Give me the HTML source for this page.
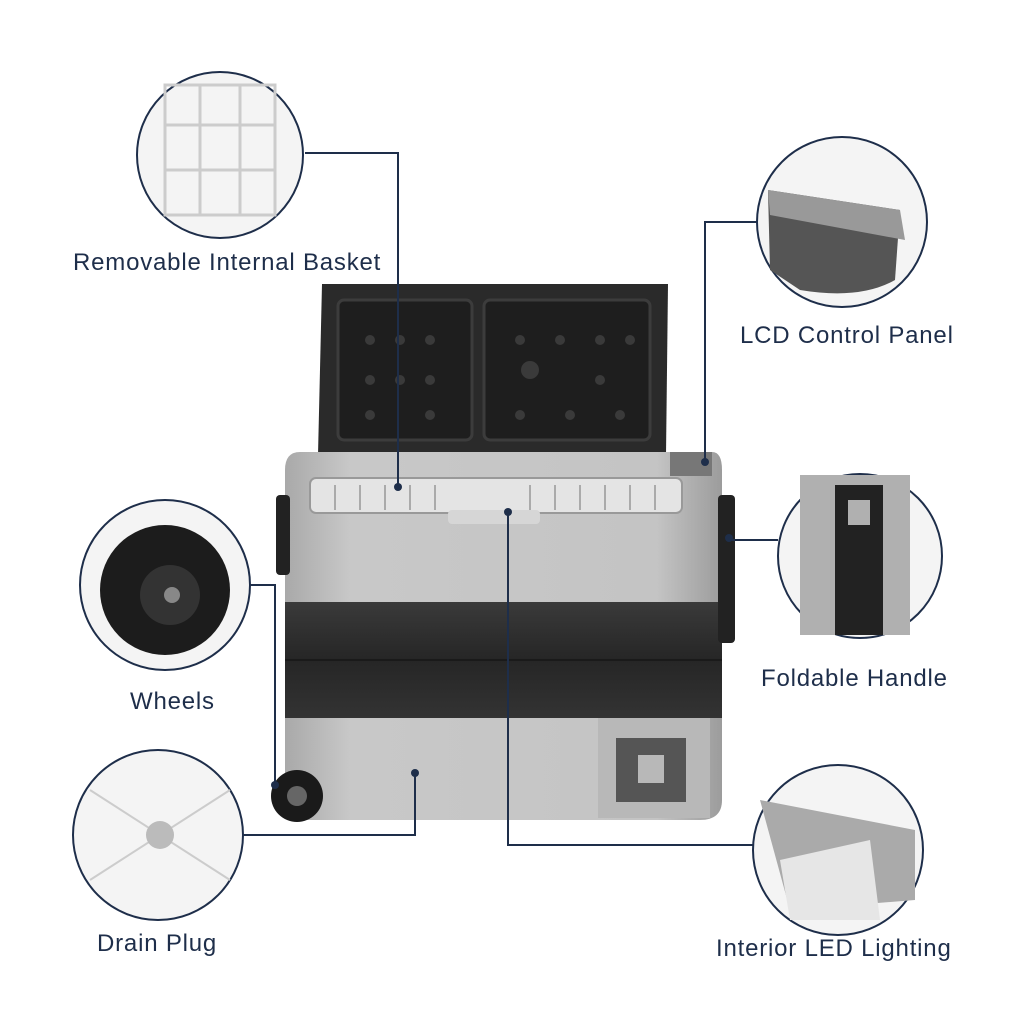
<!DOCTYPE html>
<html><head><meta charset="utf-8"><style>
html,body{margin:0;padding:0;background:#fff;}
svg{display:block}
text{font-family:"Liberation Sans",sans-serif;fill:#1e2e4a;font-size:24px;letter-spacing:0.8px}
</style></head><body>
<svg width="1024" height="1024" viewBox="0 0 1024 1024">
<defs>
<linearGradient id="body" x1="0" y1="0" x2="1" y2="0"><stop offset="0" stop-color="#a9a9a9"/><stop offset="0.15" stop-color="#c8c8c8"/><stop offset="0.85" stop-color="#c4c4c4"/><stop offset="1" stop-color="#9c9c9c"/></linearGradient>
<linearGradient id="band" x1="0" y1="0" x2="0" y2="1"><stop offset="0" stop-color="#3a3a3a"/><stop offset="0.5" stop-color="#262626"/><stop offset="1" stop-color="#333"/></linearGradient>
</defs>
<path d="M322 284 L668 284 L666 455 L318 455 Z" fill="#2a2a2a"/>
<rect x="338" y="300" width="134" height="140" rx="6" fill="#1e1e1e" stroke="#3c3c3c" stroke-width="3"/>
<rect x="484" y="300" width="166" height="140" rx="6" fill="#1e1e1e" stroke="#3c3c3c" stroke-width="3"/>
<g fill="#3a3a3a">
<circle cx="370" cy="340" r="5"/><circle cx="400" cy="340" r="5"/><circle cx="430" cy="340" r="5"/><circle cx="370" cy="380" r="5"/><circle cx="400" cy="380" r="5"/><circle cx="430" cy="380" r="5"/><circle cx="370" cy="415" r="5"/><circle cx="430" cy="415" r="5"/>
<circle cx="520" cy="340" r="5"/><circle cx="560" cy="340" r="5"/><circle cx="600" cy="340" r="5"/><circle cx="630" cy="340" r="5"/><circle cx="530" cy="370" r="9"/><circle cx="600" cy="380" r="5"/><circle cx="520" cy="415" r="5"/><circle cx="570" cy="415" r="5"/><circle cx="620" cy="415" r="5"/>
</g>
<path d="M300 452 L712 452 Q722 452 722 470 L722 800 Q722 820 700 820 L305 820 Q285 820 285 800 L285 470 Q285 452 300 452 Z" fill="url(#body)"/>
<rect x="310" y="478" width="372" height="35" rx="6" fill="#e4e4e4" stroke="#999" stroke-width="2"/>
<g stroke="#aaa" stroke-width="2"><line x1="335" y1="485" x2="335" y2="510"/><line x1="360" y1="485" x2="360" y2="510"/><line x1="385" y1="485" x2="385" y2="510"/><line x1="410" y1="485" x2="410" y2="510"/><line x1="435" y1="485" x2="435" y2="510"/><line x1="530" y1="485" x2="530" y2="510"/><line x1="555" y1="485" x2="555" y2="510"/><line x1="580" y1="485" x2="580" y2="510"/><line x1="605" y1="485" x2="605" y2="510"/><line x1="630" y1="485" x2="630" y2="510"/><line x1="655" y1="485" x2="655" y2="510"/></g>
<rect x="448" y="510" width="92" height="14" rx="4" fill="#d6d6d6"/>
<rect x="670" y="452" width="42" height="24" fill="#777"/>
<rect x="285" y="602" width="437" height="116" fill="url(#band)"/>
<line x1="285" y1="660" x2="722" y2="660" stroke="#1a1a1a" stroke-width="2"/>
<rect x="598" y="718" width="112" height="100" fill="#b8b8b8"/>
<rect x="616" y="738" width="70" height="64" fill="#555"/>
<rect x="638" y="755" width="26" height="28" fill="#b8b8b8"/>
<rect x="276" y="495" width="14" height="80" rx="4" fill="#222"/>
<rect x="718" y="495" width="17" height="148" rx="4" fill="#222"/>
<circle cx="297" cy="796" r="26" fill="#1a1a1a"/><circle cx="297" cy="796" r="10" fill="#666"/>
<g fill="#f4f4f4" stroke="#1e2e4a" stroke-width="2">
<circle cx="220" cy="155" r="83"/>
<circle cx="842" cy="222" r="85"/>
<circle cx="165" cy="585" r="85"/>
<circle cx="860" cy="556" r="82"/>
<circle cx="158" cy="835" r="85"/>
<circle cx="838" cy="850" r="85"/>
</g>
<g stroke="#ccc" stroke-width="3" fill="none"><rect x="165" y="85" width="110" height="130"/><line x1="165" y1="125" x2="275" y2="125"/><line x1="165" y1="170" x2="275" y2="170"/><line x1="200" y1="85" x2="200" y2="215"/><line x1="240" y1="85" x2="240" y2="215"/></g>
<path d="M768 190 L900 210 L895 280 Q860 300 800 290 L770 270 Z" fill="#555"/><path d="M768 190 L900 210 L905 240 L770 215 Z" fill="#999"/>
<circle cx="165" cy="590" r="65" fill="#1c1c1c"/><circle cx="170" cy="595" r="30" fill="#333"/><circle cx="172" cy="595" r="8" fill="#888"/>
<rect x="800" y="475" width="110" height="160" fill="#b0b0b0"/><rect x="835" y="485" width="48" height="150" fill="#222"/><rect x="848" y="500" width="22" height="25" fill="#b0b0b0"/>
<line x1="90" y1="790" x2="230" y2="880" stroke="#ccc" stroke-width="2"/><line x1="230" y1="790" x2="90" y2="880" stroke="#ccc" stroke-width="2"/><circle cx="160" cy="835" r="14" fill="#bbb"/>
<path d="M760 800 L915 830 L915 900 L790 910 Z" fill="#aaa"/><path d="M780 860 L870 840 L880 920 L790 920 Z" fill="#e6e6e6"/>
<g stroke="#1e2e4a" stroke-width="2" fill="none">
<polyline points="305,153 398,153 398,487"/>
<polyline points="757,222 705,222 705,462"/>
<polyline points="250,585 275,585 275,785"/>
<polyline points="778,540 729,540"/>
<polyline points="243,835 415,835 415,773"/>
<polyline points="508,512 508,845 753,845"/>
</g>
<g fill="#1e2e4a"><circle cx="398" cy="487" r="4"/><circle cx="705" cy="462" r="4"/><circle cx="275" cy="785" r="4"/><circle cx="729" cy="538" r="4"/><circle cx="415" cy="773" r="4"/><circle cx="508" cy="512" r="4"/></g>
<text x="73" y="270">Removable Internal Basket</text>
<text x="740" y="343">LCD Control Panel</text>
<text x="130" y="709">Wheels</text>
<text x="761" y="686">Foldable Handle</text>
<text x="97" y="951">Drain Plug</text>
<text x="716" y="956">Interior LED Lighting</text>
</svg>
</body></html>
